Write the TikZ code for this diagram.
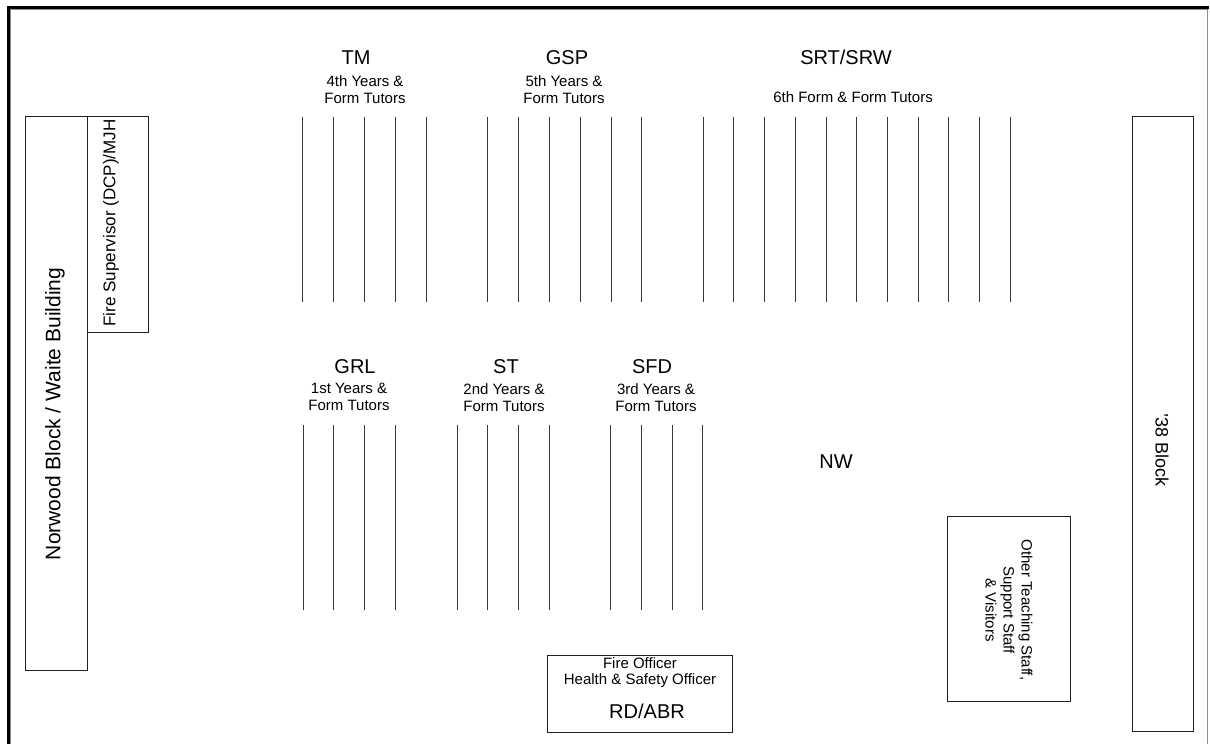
\documentclass[tikz,border=0pt]{standalone}
\usepackage{fontspec}
\setmainfont{Liberation Sans}
\usepackage{tikz}
\usetikzlibrary{positioning}
\definecolor{planink}{gray}{0.12}
\definecolor{rowink}{gray}{0.22}
\definecolor{rimgray}{gray}{0.55}
\tikzset{
  framethick/.style = {draw=black, line width=3pt},
  framethin/.style  = {draw=rimgray, line width=0.9pt},
  roombox/.style    = {draw=planink, line width=0.8pt},
  rowline/.style    = {draw=rowink, line width=0.7pt},
  grptitle/.style   = {font=\fontsize{20}{23}\selectfont, anchor=base, inner sep=0pt},
  grpsub/.style     = {font=\fontsize{15}{17}\selectfont, align=center, inner sep=0pt},
  bldglabel/.style  = {font=\fontsize{21}{24}\selectfont, inner sep=0pt},
  stafflabel/.style = {font=\fontsize{15}{18}\selectfont, align=center, inner sep=0pt},
}

\begin{document}
\begin{tikzpicture}[x=1pt, y=-1pt]
  \useasboundingbox (0,0) rectangle (1210,744);
  % page frame
  \draw[framethin] (10.5,744) -- (10.5,9.5) -- (1207.5,9.5) -- (1207.5,744);
  \draw[framethick] (8.5,744) -- (8.5,7.5) -- (1209,7.5);

  % buildings and staff areas
  \draw[roombox] (25,116) rectangle (87,670);
  \draw[roombox] (87,116) rectangle (148,332);
  \draw[roombox] (1132,116) rectangle (1193,731);
  \draw[roombox] (947,516) rectangle (1070,701);
  \draw[roombox] (547,655) rectangle (732,732);

  \node[bldglabel, rotate=90] (norwood) at (55,414) {Norwood Block / Waite Building};
  \node[bldglabel, rotate=90, font=\fontsize{17}{20}\selectfont] (firesup) at (111,223)
    {Fire Supervisor (DCP)/MJH};
  \node[bldglabel, rotate=-90, font=\fontsize{18}{21}\selectfont] (block38) at (1162,450)
    {'38 Block};
  \node[stafflabel, rotate=-90] (others) at (1009,610)
    {Other Teaching Staff,\\Support Staff\\\& Visitors};
  \node[grpsub, anchor=north, font=\fontsize{15}{16.5}\selectfont] (fireoff) at (640,657)
    {Fire Officer\\Health \& Safety Officer};
  \node[grptitle] (rdabr) at (647,718) {RD/ABR};
  \node[grptitle] (nw) at (836,468) {NW};

  % upper rows
  \node[grptitle] (tm) at (356,64) {TM};
  \node[grpsub, anchor=north] (tmsub) at (365,75) {4th Years \&\\Form Tutors};
  \foreach \x in {302,333,364,395,426}
    \draw[rowline] (\x,117) -- (\x,302);

  \node[grptitle] (gsp) at (567,64) {GSP};
  \node[grpsub, anchor=north] (gspsub) at (564,75) {5th Years \&\\Form Tutors};
  \foreach \x in {487,518,549,580,611,641}
    \draw[rowline] (\x,117) -- (\x,302);

  \node[grptitle] (srt) at (846,64) {SRT/SRW};
  \node[grpsub, anchor=base] (srtsub) at (853,102) {6th Form \& Form Tutors};
  \foreach \x in {703,733,764,795,826,856,887,918,948,979,1010}
    \draw[rowline] (\x,117) -- (\x,302);

  % lower rows
  \node[grptitle] (grl) at (355,373) {GRL};
  \node[grpsub, anchor=north] (grlsub) at (349,383) {1st Years \&\\Form Tutors};
  \foreach \x in {303,333,364,395}
    \draw[rowline] (\x,425) -- (\x,610);

  \node[grptitle] (st) at (506,373) {ST};
  \node[grpsub, anchor=north] (stsub) at (504,383) {2nd Years \&\\Form Tutors};
  \foreach \x in {457,487,518,549}
    \draw[rowline] (\x,425) -- (\x,610);

  \node[grptitle] (sfd) at (652,373) {SFD};
  \node[grpsub, anchor=north] (sfdsub) at (656,383) {3rd Years \&\\Form Tutors};
  \foreach \x in {610,641,672,702}
    \draw[rowline] (\x,425) -- (\x,610);
\end{tikzpicture}
\end{document}
